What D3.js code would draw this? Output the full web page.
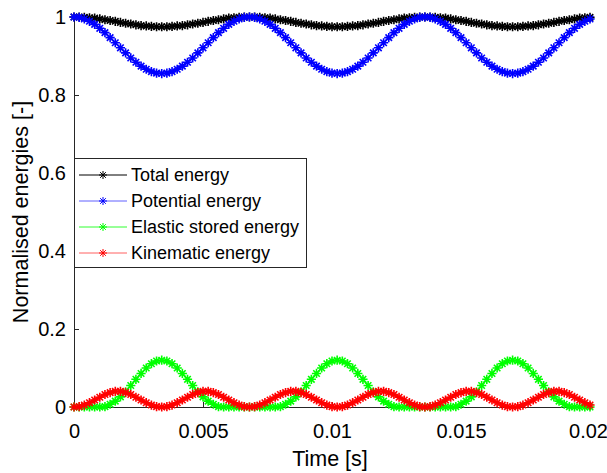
<!DOCTYPE html>
<html lang="en">
<head>
    <meta charset="UTF-8">
    <title>Normalised energies</title>
    <script src="https://d3js.org/d3.v7.min.js"></script>
    <style>
        body { margin: 0; background: #fff; }
        svg { font-family: "Liberation Sans", Arial, sans-serif; }
        .axis path, .axis line { stroke: #262626; shape-rendering: crispEdges; }
        .axis text { font-size: 20px; fill: #000; }
        .series { fill: none; stroke-width: 1.5px; }
        .marker { fill: none; stroke-width: 1.6px; }
        .legend-marker { fill: none; stroke-width: 1px; }
    </style>
</head>
<body>
<svg width="607" height="473"></svg>
<script>
    // Time samples [s]
    const time = [
        0, 0.0002, 0.0004, 0.0006, 0.0008, 0.001, 0.0012, 0.0014, 0.0016, 0.0018,
        0.002, 0.0022, 0.0024, 0.0026, 0.0028, 0.003, 0.0032, 0.0034, 0.0036, 0.0038,
        0.004, 0.0042, 0.0044, 0.0046, 0.0048, 0.005, 0.0052, 0.0054, 0.0056, 0.0058,
        0.006, 0.0062, 0.0064, 0.0066, 0.0068, 0.007, 0.0072, 0.0074, 0.0076, 0.0078,
        0.008, 0.0082, 0.0084, 0.0086, 0.0088, 0.009, 0.0092, 0.0094, 0.0096, 0.0098,
        0.01, 0.0102, 0.0104, 0.0106, 0.0108, 0.011, 0.0112, 0.0114, 0.0116, 0.0118,
        0.012, 0.0122, 0.0124, 0.0126, 0.0128, 0.013, 0.0132, 0.0134, 0.0136, 0.0138,
        0.014, 0.0142, 0.0144, 0.0146, 0.0148, 0.015, 0.0152, 0.0154, 0.0156, 0.0158,
        0.016, 0.0162, 0.0164, 0.0166, 0.0168, 0.017, 0.0172, 0.0174, 0.0176, 0.0178,
        0.018, 0.0182, 0.0184, 0.0186, 0.0188, 0.019, 0.0192, 0.0194, 0.0196, 0.0198,
        0.02
    ];

    const totalEnergy = [
        1.000, 1.000, 0.999, 0.998, 0.997, 0.995, 0.993, 0.991, 0.989, 0.986, 0.984, 0.982, 0.980, 0.978, 0.977, 0.976, 0.975,
        0.975, 0.975, 0.976, 0.977, 0.978, 0.980, 0.982, 0.984, 0.986, 0.989, 0.991, 0.993, 0.995, 0.997, 0.998, 0.999, 1.000,
        1.000, 1.000, 0.999, 0.998, 0.997, 0.995, 0.993, 0.991, 0.989, 0.986, 0.984, 0.982, 0.980, 0.978, 0.977, 0.976, 0.975,
        0.975, 0.975, 0.976, 0.977, 0.978, 0.980, 0.982, 0.984, 0.986, 0.989, 0.991, 0.993, 0.995, 0.997, 0.998, 0.999, 1.000,
        1.000, 1.000, 0.999, 0.998, 0.997, 0.995, 0.993, 0.991, 0.989, 0.986, 0.984, 0.982, 0.980, 0.978, 0.977, 0.976, 0.975,
        0.975, 0.975, 0.976, 0.977, 0.978, 0.980, 0.982, 0.984, 0.986, 0.989, 0.991, 0.993, 0.995, 0.997, 0.998, 0.999
    ];

    const potentialEnergy = [
        1.000, 0.999, 0.995, 0.989, 0.981, 0.971, 0.960, 0.947, 0.934, 0.921, 0.908, 0.895, 0.884, 0.874, 0.866, 0.860, 0.856,
        0.855, 0.856, 0.860, 0.866, 0.874, 0.884, 0.895, 0.908, 0.921, 0.934, 0.947, 0.960, 0.971, 0.981, 0.989, 0.995, 0.999,
        1.000, 0.999, 0.995, 0.989, 0.981, 0.971, 0.960, 0.947, 0.934, 0.921, 0.908, 0.895, 0.884, 0.874, 0.866, 0.860, 0.856,
        0.855, 0.856, 0.860, 0.866, 0.874, 0.884, 0.895, 0.908, 0.921, 0.934, 0.947, 0.960, 0.971, 0.981, 0.989, 0.995, 0.999,
        1.000, 0.999, 0.995, 0.989, 0.981, 0.971, 0.960, 0.947, 0.934, 0.921, 0.908, 0.895, 0.884, 0.874, 0.866, 0.860, 0.856,
        0.855, 0.856, 0.860, 0.866, 0.874, 0.884, 0.895, 0.908, 0.921, 0.934, 0.947, 0.960, 0.971, 0.981, 0.989, 0.995
    ];

    const elasticEnergy = [
        0.000, 0.000, 0.000, 0.000, 0.000, 0.000, 0.001, 0.007, 0.015, 0.026, 0.039, 0.055, 0.071, 0.086, 0.100, 0.111, 0.118,
        0.120, 0.118, 0.111, 0.100, 0.086, 0.071, 0.055, 0.039, 0.026, 0.015, 0.007, 0.001, 0.000, 0.000, 0.000, 0.000, 0.000,
        0.000, 0.000, 0.000, 0.000, 0.000, 0.000, 0.001, 0.007, 0.015, 0.026, 0.039, 0.055, 0.071, 0.086, 0.100, 0.111, 0.118,
        0.120, 0.118, 0.111, 0.100, 0.086, 0.071, 0.055, 0.039, 0.026, 0.015, 0.007, 0.001, 0.000, 0.000, 0.000, 0.000, 0.000,
        0.000, 0.000, 0.000, 0.000, 0.000, 0.000, 0.001, 0.007, 0.015, 0.026, 0.039, 0.055, 0.071, 0.086, 0.100, 0.111, 0.118,
        0.120, 0.118, 0.111, 0.100, 0.086, 0.071, 0.055, 0.039, 0.026, 0.015, 0.007, 0.001, 0.000, 0.000, 0.000, 0.000
    ];

    const kinematicEnergy = [
        0.000, 0.001, 0.005, 0.011, 0.018, 0.025, 0.032, 0.037, 0.040, 0.040, 0.037, 0.032, 0.025, 0.018, 0.011, 0.005, 0.001,
        0.000, 0.001, 0.005, 0.011, 0.018, 0.025, 0.032, 0.037, 0.040, 0.040, 0.037, 0.032, 0.025, 0.018, 0.011, 0.005, 0.001,
        0.000, 0.001, 0.005, 0.011, 0.018, 0.025, 0.032, 0.037, 0.040, 0.040, 0.037, 0.032, 0.025, 0.018, 0.011, 0.005, 0.001,
        0.000, 0.001, 0.005, 0.011, 0.018, 0.025, 0.032, 0.037, 0.040, 0.040, 0.037, 0.032, 0.025, 0.018, 0.011, 0.005, 0.001,
        0.000, 0.001, 0.005, 0.011, 0.018, 0.025, 0.032, 0.037, 0.040, 0.040, 0.037, 0.032, 0.025, 0.018, 0.011, 0.005, 0.001,
        0.000, 0.001, 0.005, 0.011, 0.018, 0.025, 0.032, 0.037, 0.040, 0.040, 0.037, 0.032, 0.025, 0.018, 0.011, 0.005
    ];

    const seriesNames = ["Total energy", "Potential energy", "Elastic stored energy", "Kinematic energy"];
    const seriesColors = ["#000000", "#0000ff", "#00ff00", "#ff0000"];
    const legendLineColors = ["#000000", "#6060ff", "#30ff30", "#ff6060"];
    const seriesValues = [totalEnergy, potentialEnergy, elasticEnergy, kinematicEnergy];

    const xTicks = [0, 0.005, 0.01, 0.015, 0.02];
    const xTickLabels = ["0", "0.005", "0.01", "0.015", "0.02"];
    const yTicks = [0, 0.2, 0.4, 0.6, 0.8, 1];
    const yTickLabels = ["0", "0.2", "0.4", "0.6", "0.8", "1"];

    // Plot box
    const margin = {top: 17, right: 17, bottom: 66, left: 74},
        width = 607 - margin.left - margin.right,
        height = 473 - margin.top - margin.bottom;

    const x = d3.scaleLinear().domain([0, 0.02]).range([0, width]);
    const y = d3.scaleLinear().domain([0, 1]).range([height, 0]);

    const svg = d3.select("svg")
        .append("g")
        .attr("transform", "translate(" + margin.left + "," + margin.top + ")");

    // Axes (ticks pointing inwards, no box)
    svg.append("g")
        .attr("class", "x axis")
        .attr("transform", "translate(0," + height + ")")
        .call(d3.axisBottom(x).tickValues(xTicks)
            .tickFormat((d, i) => xTickLabels[i])
            .tickSizeInner(-5).tickSizeOuter(0).tickPadding(17));

    svg.append("g")
        .attr("class", "y axis")
        .call(d3.axisLeft(y).tickValues(yTicks)
            .tickFormat((d, i) => yTickLabels[i])
            .tickSizeInner(-5).tickSizeOuter(0).tickPadding(8));

    // the last x tick label sits on the right edge
    svg.select(".x.axis").selectAll(".tick text")
        .filter((d, i) => i === xTicks.length - 1)
        .attr("dx", "-2px");

    // asterisk marker, like the '*' marker
    function star(s) {
        const d = s * 0.7071;
        return "M" + (-s) + ",0H" + s + "M0," + (-s) + "V" + s +
            "M" + (-d) + "," + (-d) + "L" + d + "," + d +
            "M" + (-d) + "," + d + "L" + d + "," + (-d);
    }

    seriesValues.forEach((vals, k) => {
        const pts = time.map((t, i) => [t, vals[i]]);
        const line = d3.line().x(d => x(d[0])).y(d => y(d[1]));

        svg.append("path")
            .attr("class", "series")
            .attr("d", line(pts))
            .attr("stroke", seriesColors[k]);

        svg.append("g").selectAll("path")
            .data(pts)
            .join("path")
            .attr("class", "marker")
            .attr("transform", d => "translate(" + x(d[0]) + "," + y(d[1]) + ")")
            .attr("d", star(4.6))
            .attr("stroke", seriesColors[k]);
    });

    // Legend
    const legend = svg.append("g").attr("transform", "translate(0," + (158 - margin.top) + ")");
    legend.append("rect")
        .attr("x", 0.5).attr("y", 0.5)
        .attr("width", 232).attr("height", 109)
        .attr("fill", "#fff")
        .attr("stroke", "#262626");

    seriesNames.forEach((name, k) => {
        const row = legend.append("g").attr("transform", "translate(0," + (17 + k * 26) + ")");
        row.append("line")
            .attr("x1", 5).attr("x2", 53)
            .attr("y1", 0).attr("y2", 0)
            .attr("stroke", legendLineColors[k])
            .attr("stroke-width", 1);
        row.append("path")
            .attr("class", "legend-marker")
            .attr("transform", "translate(29,0)")
            .attr("d", star(4))
            .attr("stroke", seriesColors[k]);
        row.append("text")
            .attr("x", 57).attr("y", 0).attr("dy", "0.35em")
            .style("font-size", "18px")
            .text(name);
    });

    // Axis labels
    d3.select("svg").append("text")
        .attr("x", margin.left + width / 2 - 2)
        .attr("y", 466)
        .attr("text-anchor", "middle")
        .style("font-size", "21.5px")
        .text("Time [s]");

    d3.select("svg").append("text")
        .attr("transform", "translate(28," + (margin.top + height / 2) + ") rotate(-90)")
        .attr("text-anchor", "middle")
        .style("font-size", "21.5px")
        .text("Normalised energies [-]");
</script>
</body>
</html>
